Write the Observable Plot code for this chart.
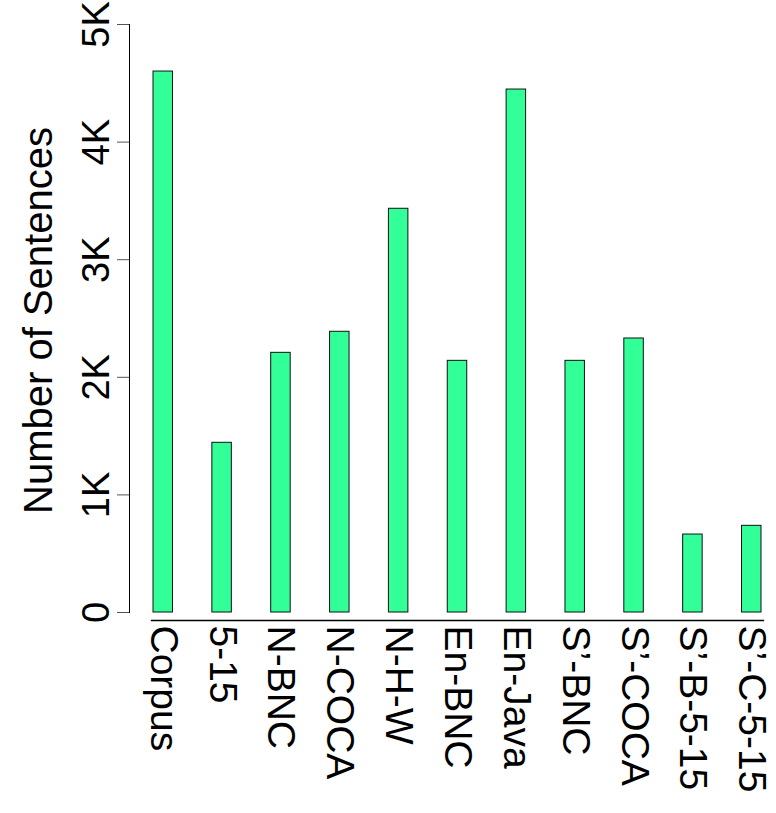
<!DOCTYPE html>
<html>
<head>
<meta charset="utf-8">
<script src="https://cdn.jsdelivr.net/npm/d3@7"></script>
<script src="https://cdn.jsdelivr.net/npm/@observablehq/plot@0.6"></script>
<style>
  html, body { margin: 0; padding: 0; background: #fff; }
</style>
</head>
<body>
<div id="chart"></div>
<script>
const categories = ["Corpus", "5-15", "N-BNC", "N-COCA", "N-H-W", "En-BNC", "En-Java", "S’-BNC", "S’-COCA", "S’-B-5-15", "S’-C-5-15"];
const sentences = [4600, 1443, 2208, 2387, 3433, 2140, 4447, 2140, 2330, 663, 737];
const yTicks = [0, 1000, 2000, 3000, 4000, 5000];
const yTickLabels = ["0", "1K", "2K", "3K", "4K", "5K"];
const yTitle = "Number of Sentences";

const data = categories.map((c, i) => ({category: c, value: sentences[i]}));
const fontFamily = "'Liberation Sans', Arial, Helvetica, sans-serif";

const chart = Plot.plot({
  width: 776,
  height: 813,
  marginTop: 24,
  marginLeft: 129,
  marginRight: 13,
  marginBottom: 193,
  style: {fontFamily, background: "#fff", color: "#000"},
  x: {type: "band", domain: categories, paddingInner: 0.669, paddingOuter: 0.221, align: 0.923, round: false, label: null},
  y: {domain: [0, 5000], insetBottom: 8, label: null},
  marks: [
    Plot.barY(data, {x: "category", y: "value", fill: "#33ff99", stroke: "#111", strokeWidth: 1}),
    Plot.frame({anchor: "left", insetBottom: 8, stroke: "#000", strokeWidth: 1}),
    Plot.frame({anchor: "bottom", insetLeft: 22, stroke: "#000", strokeWidth: 1.3}),
    Plot.axisY({
      ticks: yTicks,
      tickFormat: (d) => yTickLabels[yTicks.indexOf(d)],
      tickSize: 12,
      tickPadding: 9,
      tickRotate: -90,
      fontSize: 38,
      label: null,
      stroke: "#555"
    }),
    Plot.axisX({
      tickSize: 0,
      tickPadding: 5,
      tickRotate: 90,
      fontSize: 39,
      label: null
    }),
    Plot.text([yTitle], {
      text: (d) => d,
      frameAnchor: "left",
      rotate: -90,
      textAnchor: "middle",
      lineAnchor: "bottom",
      dx: -78,
      dy: -2,
      fontSize: 40
    })
  ]
});
document.getElementById("chart").appendChild(chart);
</script>
</body>
</html>
